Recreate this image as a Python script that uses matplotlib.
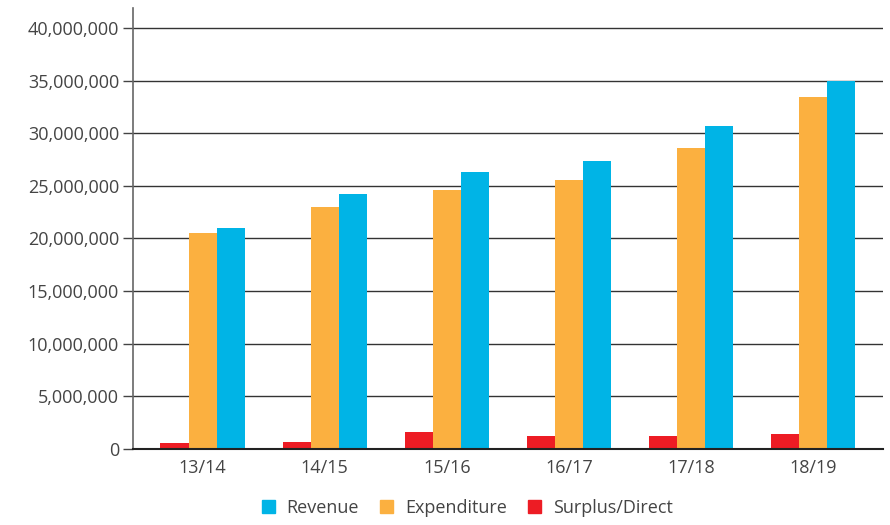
import numpy as np
import matplotlib
matplotlib.use("Agg")
import matplotlib.pyplot as plt
from matplotlib.ticker import FuncFormatter
from matplotlib.patches import Patch

plt.rcParams['font.family'] = ['Open Sans', 'DejaVu Sans']

# Data.
years = ['13/14', '14/15', '15/16', '16/17', '17/18', '18/19']
surplus = [530000, 690000, 1650000, 1270000, 1270000, 1390000]
expenditure = [20500000, 23000000, 24600000, 25600000, 28600000, 33400000]
revenue = [21000000, 24200000, 26300000, 27400000, 30700000, 35000000]

c_red = '#ED1C24'
c_orange = '#FBB040'
c_blue = '#00B4E6'
text_color = '#444444'

fig = plt.figure(figsize=(8.9, 5.25), dpi=100)
ax = fig.add_axes([0.1494, 0.1448, 0.8427, 0.840])

x = np.arange(len(years))
w = 0.23
ax.bar(x - w, surplus, w, color=c_red, zorder=2)
ax.bar(x, expenditure, w, color=c_orange, zorder=2)
ax.bar(x + w, revenue, w, color=c_blue, zorder=2)

ax.set_xlim(-0.57, len(years) - 1 + 0.57)
ax.set_ylim(0, 41.9e6)
ax.set_yticks(np.arange(0, 40e6 + 1, 5e6))
ax.yaxis.set_major_formatter(FuncFormatter(lambda v, p: f'{int(v):,}'))
ax.set_xticks(x)
ax.set_xticklabels(years)

ax.yaxis.grid(True, color='#333333', linewidth=1.0, zorder=1)
ax.set_axisbelow(True)

for s in ['top', 'right']:
    ax.spines[s].set_visible(False)
ax.spines['left'].set_color('#666666')
ax.spines['left'].set_linewidth(1.2)
ax.spines['bottom'].set_color('#222222')
ax.spines['bottom'].set_linewidth(1.5)
ax.spines['bottom'].set_zorder(3)

ax.tick_params(axis='y', length=7, width=1, color='#444444', labelsize=13,
               labelcolor=text_color, pad=3)
ax.tick_params(axis='x', length=0, labelsize=13, labelcolor=text_color, pad=7)

handles = [Patch(color=c_blue, label='Revenue'),
           Patch(color=c_orange, label='Expenditure'),
           Patch(color=c_red, label='Surplus/Direct')]
leg = fig.legend(handles=handles, loc='center', bbox_to_anchor=(0.525, 0.032),
                 ncol=3, frameon=False, fontsize=13, handlelength=0.72,
                 handleheight=0.72, handletextpad=0.66, columnspacing=1.16)
for t in leg.get_texts():
    t.set_color(text_color)

fig.savefig('out.png', dpi=100)
